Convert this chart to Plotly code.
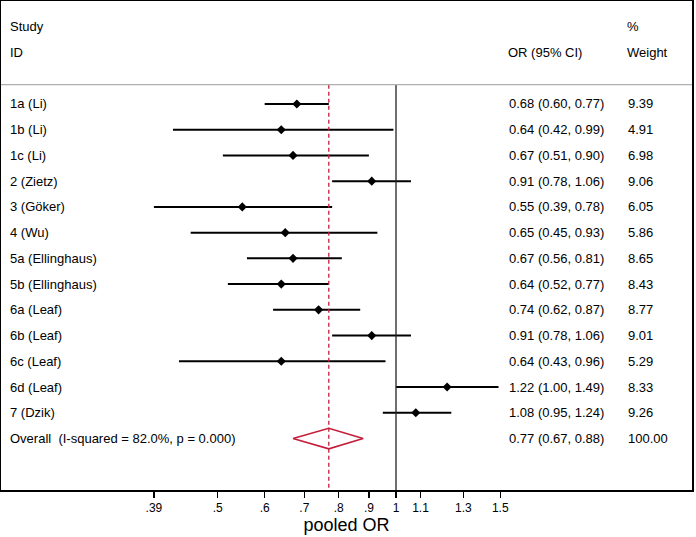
import math
import plotly.graph_objects as go

# ---------------- data ----------------
studies = ["1a (Li)", "1b (Li)", "1c (Li)", "2 (Zietz)", "3 (Göker)", "4 (Wu)",
           "5a (Ellinghaus)", "5b (Ellinghaus)", "6a (Leaf)", "6b (Leaf)",
           "6c (Leaf)", "6d (Leaf)", "7 (Dzik)"]
or_est = [0.68, 0.64, 0.67, 0.91, 0.55, 0.65, 0.67, 0.64, 0.74, 0.91, 0.64, 1.22, 1.08]
ci_low = [0.60, 0.42, 0.51, 0.78, 0.39, 0.45, 0.56, 0.52, 0.62, 0.78, 0.43, 1.00, 0.95]
ci_high = [0.77, 0.99, 0.90, 1.06, 0.78, 0.93, 0.81, 0.77, 0.87, 1.06, 0.96, 1.49, 1.24]
weights = [9.39, 4.91, 6.98, 9.06, 6.05, 5.86, 8.65, 8.43, 8.77, 9.01, 5.29, 8.33, 9.26]

overall_label = "Overall  (I-squared = 82.0%, p = 0.000)"
overall_est = 0.77
overall_low = 0.67
overall_high = 0.88
overall_weight = 100.00

tick_vals = [0.39, 0.5, 0.6, 0.7, 0.8, 0.9, 1.0, 1.1, 1.3, 1.5]
tick_text = [".39", ".5", ".6", ".7", ".8", ".9", "1", "1.1", "1.3", "1.5"]

# ---------------- layout constants ----------------
W, H = 696, 537
L_PX, R_PX, T_PX, B_PX = 1, 692, 1, 490
FONT = "Liberation Sans, Arial, Helvetica, sans-serif"
RED = "#c41e3a"

n = len(studies)
rows = list(range(n))
overall_row = n
y_top, y_bot = -4, 15
header_line_y = -0.75

# x range (log10) so that 1 sits at ~396 px with ~592 px per decade
px_per_dec = 592.0
x_one = 396.0
xr = [(L_PX - x_one) / px_per_dec, (R_PX - x_one) / px_per_dec]

def paper_x(px):
    return (px - L_PX) / (R_PX - L_PX)

fig = go.Figure()

# CI lines
cx, cy = [], []
for r, l, h in zip(rows, ci_low, ci_high):
    cx += [l, h, None]
    cy += [r, r, None]
fig.add_trace(go.Scatter(x=cx, y=cy, mode="lines",
                         line=dict(color="black", width=2), hoverinfo="skip"))

# point estimates
fig.add_trace(go.Scatter(x=or_est, y=rows, mode="markers",
                         marker=dict(symbol="diamond", size=7, color="black"),
                         hoverinfo="skip"))

# reference line at 1
fig.add_trace(go.Scatter(x=[1, 1], y=[header_line_y, y_bot], mode="lines",
                         line=dict(color="#222222", width=1.3), hoverinfo="skip"))

# pooled estimate dashed line
fig.add_trace(go.Scatter(x=[overall_est, overall_est], y=[header_line_y, y_bot],
                         mode="lines",
                         line=dict(color=RED, width=1.3, dash="4px,3px"),
                         hoverinfo="skip"))

# overall diamond
hh = 0.4
fig.add_trace(go.Scatter(
    x=[overall_low, overall_est, overall_high, overall_est, overall_low],
    y=[overall_row, overall_row - hh, overall_row, overall_row + hh, overall_row],
    mode="lines", line=dict(color=RED, width=1.6), fill="none", hoverinfo="skip"))

# header separator line
fig.add_shape(type="line", xref="paper", yref="y", x0=0, x1=1,
              y0=header_line_y, y1=header_line_y,
              line=dict(color="#b0b0b0", width=1.2))

ann = []
def add_text(txt, px, y, size=13):
    ann.append(dict(text=txt, x=paper_x(px), y=y, xref="paper", yref="y",
                    xanchor="left", yanchor="middle", showarrow=False,
                    font=dict(family=FONT, size=size, color="black")))

# headers
add_text("Study", 8, -3)
add_text("ID", 8, -2)
add_text("OR (95% CI)", 506, -2)
add_text("%", 625, -3)
add_text("Weight", 625, -2)

for r, s, e, l, h, w in zip(rows, studies, or_est, ci_low, ci_high, weights):
    add_text(s, 8, r)
    add_text(f"{e:.2f} ({l:.2f}, {h:.2f})", 507, r)
    add_text(f"{w:.2f}", 626, r)

add_text(overall_label, 8, overall_row)
add_text(f"{overall_est:.2f} ({overall_low:.2f}, {overall_high:.2f})", 507, overall_row)
add_text(f"{overall_weight:.2f}", 626, overall_row)

fig.update_layout(
    width=W, height=H,
    margin=dict(l=L_PX, r=W - R_PX, t=T_PX, b=H - B_PX, autoexpand=False),
    paper_bgcolor="white", plot_bgcolor="white",
    showlegend=False,
    annotations=ann,
    font=dict(family=FONT, color="black"),
    xaxis=dict(type="log", range=xr, tickvals=tick_vals, ticktext=tick_text,
               showgrid=False, zeroline=False,
               showline=True, linecolor="black", linewidth=1.5, mirror=True,
               ticks="outside", ticklen=6, tickwidth=1.2, tickcolor="black",
               tickfont=dict(family=FONT, size=12, color="black"),
               title=dict(text="pooled OR", font=dict(family=FONT, size=18, color="black"),
                          standoff=2),
               automargin=False),
    yaxis=dict(range=[y_bot, y_top], showgrid=False, zeroline=False,
               showticklabels=False, ticks="",
               showline=True, linecolor="black", linewidth=1.5, mirror=True,
               automargin=False),
)

fig.write_html("out.html",
               config={"displayModeBar": False, "staticPlot": True},
               post_script="document.body.style.margin='0';document.body.style.overflow='hidden';")
